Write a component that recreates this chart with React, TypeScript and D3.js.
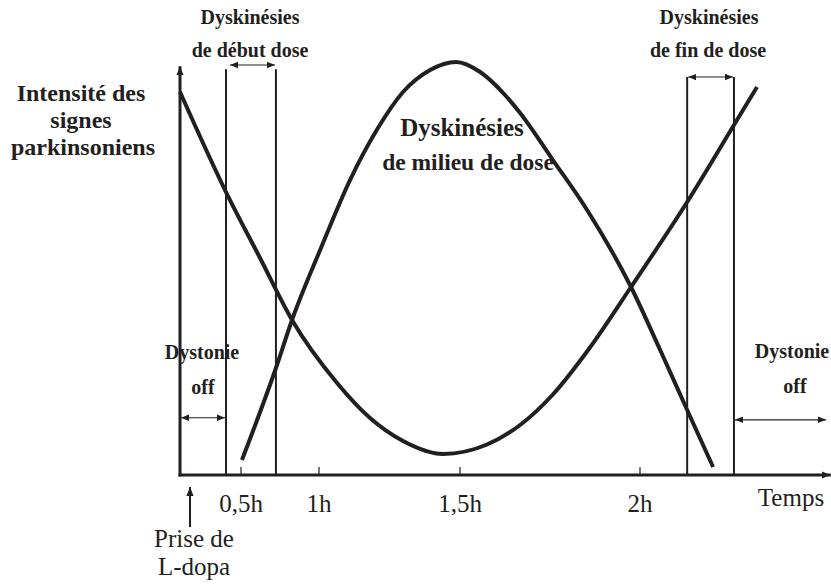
import React from "react";
import * as d3 from "d3";

// Hand-drawn time axis: tick positions are not evenly spaced in the original schematic
const timeKnots = [0, 0.5, 1, 1.5, 2];
const tickHours = [0.5, 1, 1.5, 2];
const tickLabels = ["0,5h", "1h", "1,5h", "2h"];

// Intensité des signes parkinsoniens (U-shaped curve)
const parkT = [0, 0.377, 0.622, 0.827, 1.064, 1.181, 1.298, 1.44, 1.575, 1.667, 1.758, 1.861, 1.975, 2.131, 2.261, 2.325];
const parkV = [92.29, 68.19, 52.29, 37.35, 22.17, 13.73, 8.19, 5.06, 7.35, 12.05, 19.4, 30.72, 45.3, 65.78, 84.34, 93.49];

// Concentration de L-dopa (inverted U curve)
const dopaT = [0.506, 0.724, 0.827, 1.004, 1.11, 1.209, 1.298, 1.394, 1.486, 1.556, 1.625, 1.667, 1.758, 1.853, 1.975, 2.056, 2.131, 2.203];
const dopaV = [3.61, 25.78, 37.35, 54.22, 71.08, 83.61, 92.29, 97.59, 99.52, 97.11, 91.57, 87.23, 75.9, 63.86, 45.3, 30.12, 15.66, 1.93];

// Vertical boundaries of the dyskinesia windows (hours)
const boundaryHours = [0.377, 0.724, 2.131, 2.261];
const boundaryTops = [97.8, 97.8, 95.9, 95.9];

const FONT = "'Liberation Serif', 'Times New Roman', serif";

export default function App() {
  const x = d3.scaleLinear().domain(timeKnots).range([180, 241, 319, 460, 640]);
  const y = d3.scaleLinear().domain([0, 100]).range([475, 60]);

  const line = d3
    .line<[number, number]>()
    .x((d) => x(d[0]))
    .y((d) => y(d[1]))
    .curve(d3.curveMonotoneX);

  const parkPts = parkT.map((t, i) => [t, parkV[i]] as [number, number]);
  const dopaPts = dopaT.map((t, i) => [t, dopaV[i]] as [number, number]);

  const x0 = x(0);
  const y0 = y(0);
  const xEnd = x(2.53);

  const bold = { fontFamily: FONT, fontWeight: 700, fill: "#231f20" } as const;
  const reg = { fontFamily: FONT, fontWeight: 400, fill: "#231f20" } as const;

  const dbl = (xa: number, xb: number, yy: number) => (
    <line
      x1={xa}
      x2={xb}
      y1={yy}
      y2={yy}
      stroke="#231f20"
      strokeWidth={1.2}
      markerStart="url(#arrS)"
      markerEnd="url(#arrE)"
    />
  );

  return (
    <svg width={831} height={587} style={{ position: "absolute", left: 0, top: 0 }}>
      <defs>
        <marker id="arrE" viewBox="0 0 10 10" refX="10" refY="5" markerWidth="8" markerHeight="8" markerUnits="userSpaceOnUse" orient="auto">
          <path d="M0,1 L10,5 L0,9 z" fill="#231f20" />
        </marker>
        <marker id="arrS" viewBox="0 0 10 10" refX="0" refY="5" markerWidth="8" markerHeight="8" markerUnits="userSpaceOnUse" orient="auto">
          <path d="M10,1 L0,5 L10,9 z" fill="#231f20" />
        </marker>
        <marker id="axArr" viewBox="0 0 10 10" refX="10" refY="5" markerWidth="9" markerHeight="9" markerUnits="userSpaceOnUse" orient="auto">
          <path d="M0,1 L10,5 L0,9 z" fill="#231f20" />
        </marker>
      </defs>
      <rect width={831} height={587} fill="#ffffff" />

      {/* boundaries */}
      {boundaryHours.map((h, i) => (
        <line key={i} x1={x(h)} x2={x(h)} y1={y0} y2={y(boundaryTops[i])} stroke="#231f20" strokeWidth={2} />
      ))}

      {/* ticks */}
      {tickHours.map((h) => (
        <line key={h} x1={x(h)} x2={x(h)} y1={y0} y2={y0 - 8} stroke="#231f20" strokeWidth={1.2} />
      ))}

      {/* axes */}
      <line x1={x0} x2={x0} y1={y0 + 1.5} y2={y(98.5)} stroke="#231f20" strokeWidth={3} markerEnd="url(#axArr)" />
      <line x1={x0 - 1.5} x2={xEnd} y1={y0} y2={y0} stroke="#231f20" strokeWidth={3} markerEnd="url(#axArr)" />

      {/* curves */}
      <path d={line(parkPts) ?? ""} fill="none" stroke="#231f20" strokeWidth={4} strokeLinecap="butt" />
      <path d={line(dopaPts) ?? ""} fill="none" stroke="#231f20" strokeWidth={4} strokeLinecap="butt" />

      {/* double arrows */}
      {dbl(x(boundaryHours[0]) + 4, x(boundaryHours[1]) - 1, y(98.8))}
      {dbl(x(boundaryHours[2]) + 1, x(boundaryHours[3]) - 1, y(95.9))}
      {dbl(x0 + 1, x(boundaryHours[0]) - 1, y(13.8))}
      {dbl(x(boundaryHours[3]) + 1, 826, y(13.3))}

      {/* y label */}
      <text style={bold} fontSize={24} textAnchor="middle" x={81} y={101}>Intensité des</text>
      <text style={bold} fontSize={24} textAnchor="middle" x={81} y={128}>signes</text>
      <text style={bold} fontSize={24} textAnchor="middle" x={83} y={155}>parkinsoniens</text>

      {/* top annotations */}
      <text style={bold} fontSize={20} textAnchor="middle" x={250} y={24}>Dyskinésies</text>
      <text style={bold} fontSize={20} textAnchor="middle" x={250} y={57}>de début dose</text>
      <text style={bold} fontSize={20} textAnchor="middle" x={709} y={24}>Dyskinésies</text>
      <text style={bold} fontSize={20} textAnchor="middle" x={708} y={57}>de fin de dose</text>

      <text style={bold} fontSize={25} textAnchor="middle" x={462} y={136}>Dyskinésies</text>
      <text style={bold} fontSize={23.5} textAnchor="middle" x={468} y={170}>de milieu de dose</text>

      <text style={bold} fontSize={20} textAnchor="middle" x={202} y={359}>Dystonie</text>
      <text style={bold} fontSize={20} textAnchor="middle" x={203} y={394}>off</text>
      <text style={bold} fontSize={20} textAnchor="middle" x={792} y={358}>Dystonie</text>
      <text style={bold} fontSize={20} textAnchor="middle" x={795} y={393}>off</text>

      {/* x tick labels */}
      {tickHours.map((h, i) => (
        <text key={h} style={reg} fontSize={25} textAnchor="middle" x={x(h)} y={512}>
          {tickLabels[i]}
        </text>
      ))}
      <text style={reg} fontSize={25} textAnchor="middle" x={791} y={506}>Temps</text>

      {/* intake arrow */}
      <line x1={190} x2={190} y1={527} y2={487} stroke="#231f20" strokeWidth={2} markerEnd="url(#axArr)" />
      <text style={reg} fontSize={25} textAnchor="middle" x={194} y={547}>Prise de</text>
      <text style={reg} fontSize={25} textAnchor="middle" x={194} y={575}>L-dopa</text>
    </svg>
  );
}
